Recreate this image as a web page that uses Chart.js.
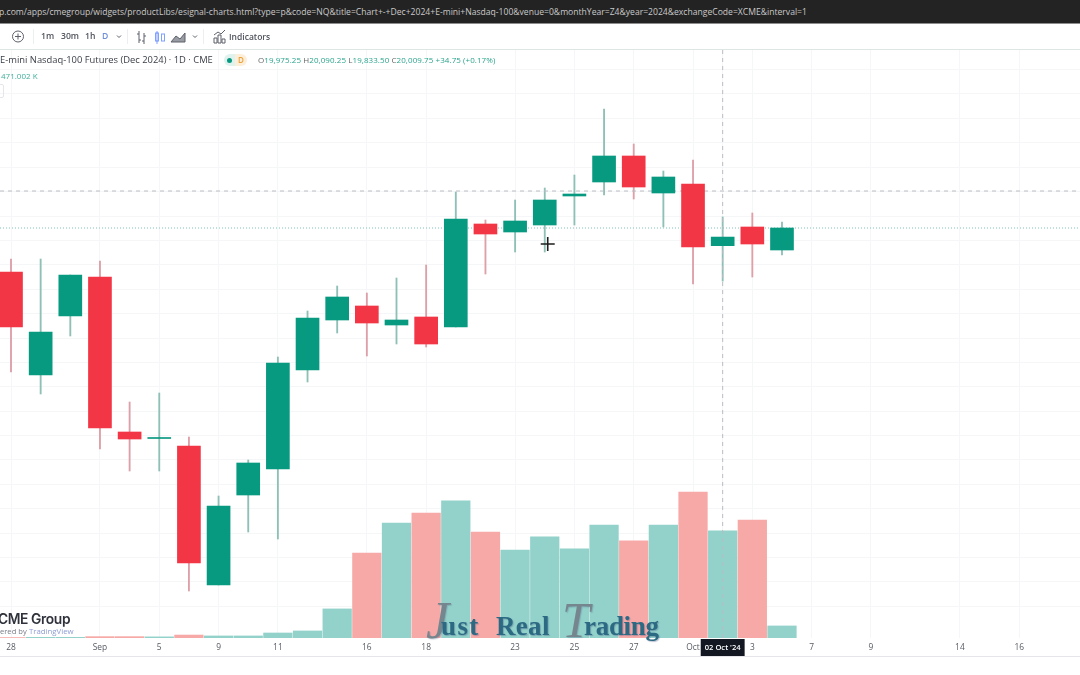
<!DOCTYPE html>
<html>
<head>
<meta charset="utf-8">
<script src="https://cdn.jsdelivr.net/npm/chart.js@4"></script>
<style>
  html, body { margin: 0; padding: 0; background: #fff; }
  body { position: relative; width: 1080px; height: 675px; overflow: hidden; font-family: "Open Sans", sans-serif; filter: blur(.35px); }
  canvas { position: absolute; left: 0; top: 0; }
  .t { position: absolute; white-space: nowrap; line-height: 1; }
  .wm { font-family: "Liberation Serif", serif; font-size: 27px; font-weight: 700; color: #2c6a84; text-shadow: 1px 1px 1px rgba(70,80,130,.35); }
  .wi { font-family: "Liberation Serif", serif; font-style: italic; color: #76868e; text-shadow: 1px 1px 1px rgba(70,80,130,.25); }
  svg { position: absolute; overflow: visible; fill: none; stroke: #5d606b; stroke-width: 1; }
  #urlbar { position: absolute; left: 0; top: 0; width: 1080px; height: 23px; background: #232323; border-bottom: 1px solid #8d8d8d; }
  #topline { position: absolute; left: 0; top: 49px; width: 1080px; height: 1px; background: #dfe5e3; }
  #bottomline { position: absolute; left: 0; top: 656px; width: 1080px; height: 1px; background: #e4e6ea; }
  .sep { position: absolute; top: 29px; width: 1px; height: 15px; background: #eceef0; }
</style>
</head>
<body>
<canvas id="myChart" width="1080" height="675"></canvas>

<div id="urlbar"></div>
<div class="t" style="left:-1px;top:8px;font-size:8.6px;color:#c9c9c9">p.com/apps/cmegroup/widgets/productLibs/esignal-charts.html?type=p&amp;code=NQ&amp;title=Chart+-+Dec+2024+E-mini+Nasdaq-100&amp;venue=0&amp;monthYear=Z4&amp;year=2024&amp;exchangeCode=XCME&amp;interval=1</div>

<svg style="left:0;top:0" width="1080" height="60">
  <circle cx="18" cy="36.5" r="5.5"/><path d="M18 33.5v6M15 36.5h6"/>
  <path d="M117 35.5l2 2 2-2M193 35.5l2 2 2-2"/>
  <path d="M139 31v12M139 34h-2M139 40h2M144 33v11M144 41h-2M144 36h2"/>
  <path d="M157 31v13" stroke="#2962ff" opacity=".6"/><rect x="155.5" y="33" width="3" height="8" stroke="#2962ff" opacity=".6"/><rect x="161.5" y="34" width="3" height="7" stroke="#2962ff" opacity=".6"/>
  <path d="M171 42l5-6 4 3 5-6v9z" fill="#9a9ca3"/>
  <path d="M214 43v-5h3v5zM218 43v-8h3v8zM222 43v-4h3v4zM214 35l4-3 3 2 4-4"/>
</svg>
<div class="sep" style="left:33px"></div>
<div class="sep" style="left:127px"></div>
<div class="sep" style="left:203px"></div>
<div class="t" style="left:41px;top:32px;font-size:8.6px;font-weight:600;color:#50535c">1m</div>
<div class="t" style="left:61px;top:32px;font-size:8.6px;font-weight:600;color:#50535c">30m</div>
<div class="t" style="left:85px;top:32px;font-size:8.6px;font-weight:600;color:#50535c">1h</div>
<div class="t" style="left:102px;top:32px;font-size:8.6px;font-weight:600;color:#6f8fd8">D</div>
<div class="t" style="left:229px;top:33px;font-size:8.5px;font-weight:600;color:#50535c">Indicators</div>
<div id="topline"></div>

<div class="t" style="left:0;top:55px;font-size:9.4px;color:#3a3d47">E-mini Nasdaq-100 Futures (Dec 2024) · 1D · CME</div>
<div class="t" style="left:224px;top:54px;width:11px;height:12px;background:#dff2ee;border-radius:6px 0 0 6px"></div>
<div class="t" style="left:235px;top:54px;width:12px;height:12px;background:#fdeeda;border-radius:0 6px 6px 0"></div>
<div class="t" style="left:227px;top:58px;width:5px;height:5px;background:#089981;border-radius:3px"></div>
<div class="t" style="left:238px;top:56px;font-size:8px;color:#e9a23b;font-weight:600">D</div>
<div class="t" style="left:258px;top:56px;font-size:8px;color:#2aa48d;letter-spacing:.07px"><span style="color:#666">O</span>19,975.25 <span style="color:#666">H</span>20,090.25 <span style="color:#666">L</span>19,833.50 <span style="color:#666">C</span>20,009.75 +34.75 (+0.17%)</div>
<div class="t" style="left:1px;top:72px;font-size:8px;color:#3fae9a">471.002 K</div>
<div class="t" style="left:-4px;top:84px;width:6px;height:12px;border:1px solid #e4e6ea;border-radius:2px"></div>

<div class="t" style="left:-2px;top:613px;font-size:13.8px;font-weight:600;color:#2f323b;font-family:Inter,sans-serif;letter-spacing:-.4px">CME Group</div>
<div class="t" style="left:0;top:628px;font-size:7.6px;color:#777b85">ered by</div>
<div class="t" style="left:29px;top:628px;font-size:7.8px;color:#8d9dd2">TradingView</div>

<div class="t wi" style="left:426px;top:595px;font-size:52px">J</div>
<div class="t wm" style="left:441px;top:613px;letter-spacing:1.4px">ust</div>
<div class="t wm" style="left:496px;top:613px;letter-spacing:.3px">Real</div>
<div class="t wi" style="left:562px;top:595px;font-size:50px">T</div>
<div class="t wm" style="left:584px;top:613px;letter-spacing:-.3px">rading</div>

<div id="bottomline"></div>

<script>
const sessions = [0, 1, 2, 3, 4, 5, 6, 7, 8, 9, 10, 11, 12, 13, 14, 15, 16, 17, 18, 19, 20, 21, 22, 23, 24, 25, 26];
const opens =  [19870, 19458, 19694, 19850, 19230, 19204, 19174, 18618, 18978, 19082, 19478, 19678, 19734, 19658, 19690, 19650, 20062, 20030, 20058, 20174, 20230, 20334, 20186, 20222, 19975.25, 20050, 19958];
const highs =  [19922, 19922, 19858, 19914, 19350, 19386, 19210, 18974, 19118, 19530, 19714, 19814, 19786, 19846, 19898, 20190, 20078, 20158, 20206, 20258, 20522, 20382, 20274, 20318, 20090.25, 20106, 20070];
const lows =   [19470, 19382, 19614, 19162, 19074, 19074, 18594, 18618, 18830, 18802, 19430, 19626, 19534, 19582, 19570, 19650, 19862, 19950, 19950, 20058, 20178, 20162, 20050, 19822, 19833.5, 19850, 19938];
const closes = [19650, 19630, 19858, 19246, 19202, 19208, 18706, 18934, 19106, 19506, 19686, 19770, 19666, 19678, 19582, 20082, 20022, 20074, 20158, 20182, 20334, 20210, 20250, 19970, 20009.75, 19982, 20046];
const volumes = [2, 3, 3, 6, 6, 5, 13, 9, 9, 22, 31, 128, 374, 506, 550, 603, 466, 387, 445, 392, 497, 427, 497, 642, 471, 519, 53];

const tickSessions = [0, 3, 5, 7, 9, 12, 14, 17, 19, 21, 23, 24, 25, 27, 29, 32, 34];
const tickLabels = ['28', 'Sep', '5', '9', '11', '16', '18', '23', '25', '27', 'Oct', "02 Oct '24", '3', '7', '9', '14', '16'];
const priceGrid = [18533, 18631, 18728, 18826, 18923, 19021, 19119, 19216, 19314, 19411, 19509, 19606, 19704, 19802, 19899, 19997, 20094, 20192, 20289, 20387, 20485, 20582, 20680];

const crossSession = 24;
const crossPrice = 20194;
const lastPrice = 20046;
const cursor = { x: 18.1, y: 19982 };

const xMin = -0.371;
const xMax = 36.05;
const priceMin = 18406;
const priceMax = 20758;
const volumeMax = 2587;

const GREEN = '#089981';
const RED = '#f23645';

function porVela(verde, rojo) {
    return sessions.map(i => (closes[i] >= opens[i] ? verde : rojo));
}

const datasets = [
    {
        type: 'line',
        data: [{ x: crossSession, y: priceMin }, { x: crossSession, y: priceMax }],
        borderColor: '#b9bcc2',
        borderWidth: 1,
        borderDash: [4, 4],
        pointRadius: 0,
        order: 2
    },
    {
        type: 'line',
        data: [{ x: xMin, y: crossPrice }, { x: xMax, y: crossPrice }],
        borderColor: '#b9bcc2',
        borderWidth: 1,
        borderDash: [4, 4],
        pointRadius: 0,
        order: 2
    },
    {
        type: 'line',
        data: [{ x: xMin, y: lastPrice }, { x: xMax, y: lastPrice }],
        borderColor: '#7cc5b8',
        borderWidth: 1,
        borderDash: [1, 2],
        pointRadius: 0,
        order: 2
    },
    {
        type: 'scatter',
        data: [cursor],
        pointStyle: 'cross',
        pointRadius: 7,
        borderColor: '#1c1c1c',
        borderWidth: 1.6,
        order: 0
    },
    {
        type: 'bar',
        yAxisID: 'y',
        data: sessions.map(i => ({ x: i, y: [opens[i], closes[i]] })),
        backgroundColor: porVela(GREEN, RED),
        barThickness: 23,
        grouped: false,
        order: 1
    },
    {
        type: 'bar',
        yAxisID: 'y',
        data: sessions.map(i => ({ x: i, y: [lows[i], highs[i]] })),
        backgroundColor: porVela('#8fc0b6', '#dd9fa8'),
        barThickness: 1.2,
        grouped: false,
        order: 3
    },
    {
        type: 'bar',
        yAxisID: 'vol',
        data: sessions.map(i => ({ x: i, y: volumes[i] })),
        backgroundColor: porVela('#92d2ca', '#f7a9a7'),
        barThickness: 28.6,
        grouped: false,
        order: 4
    }
];

new Chart(document.getElementById('myChart'), {
    data: { datasets },
    options: {
        responsive: false,
        animation: false,
        layout: { autoPadding: false, padding: { top: 50, left: 0, right: 0, bottom: 0 } },
        plugins: { legend: { display: false }, tooltip: { enabled: false } },
        scales: {
            x: {
                type: 'linear',
                min: xMin,
                max: xMax,
                offset: false,
                border: { display: false },
                grid: { color: '#f5f6f7', drawTicks: false, offset: false },
                afterBuildTicks: scale => {
                    scale.ticks = tickSessions.map(value => ({ value }));
                },
                afterFit: scale => {
                    scale.height = 37;
                    scale.paddingLeft = 0;
                    scale.paddingRight = 0;
                },
                ticks: {
                    autoSkip: false,
                    maxRotation: 0,
                    padding: 5,
                    font: ctx => ({ family: 'Open Sans', size: ctx.index === 11 ? 7.6 : 8.4, weight: ctx.index === 11 ? '600' : '400' }),
                    color: ctx => (ctx.index === 11 ? '#ffffff' : '#565a63'),
                    showLabelBackdrop: ctx => ctx.index === 11,
                    backdropColor: '#131722',
                    backdropPadding: { left: 4, right: 4, top: 4, bottom: 4 },
                    callback: (value, index) => tickLabels[index]
                }
            },
            y: {
                min: priceMin,
                max: priceMax,
                border: { display: false },
                grid: { color: '#f5f6f7', drawTicks: false },
                afterBuildTicks: scale => {
                    scale.ticks = priceGrid.map(value => ({ value }));
                },
                afterFit: scale => {
                    scale.width = 0;
                },
                ticks: { display: false }
            },
            vol: {
                display: false,
                min: 0,
                max: volumeMax
            }
        }
    }
});
</script>
</body>
</html>
